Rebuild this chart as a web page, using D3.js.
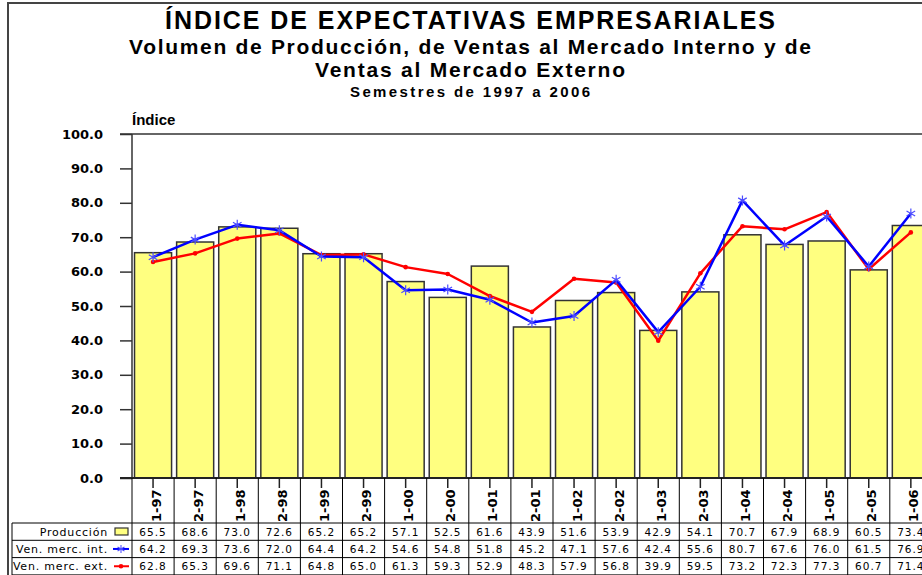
<!DOCTYPE html>
<html>
<head>
<meta charset="utf-8">
<script src="https://cdn.jsdelivr.net/npm/d3@7"></script>
<style>
  body { margin: 0; background: #fff; }
  svg { display: block; }
</style>
</head>
<body>
<svg id="chart" width="922" height="575"></svg>
<script>
var categories = ["1-97", "2-97", "1-98", "2-98", "1-99", "2-99", "1-00", "2-00", "1-01", "2-01",
                  "1-02", "2-02", "1-03", "2-03", "1-04", "2-04", "1-05", "2-05", "1-06"];
var produccion = [65.5, 68.6, 73.0, 72.6, 65.2, 65.2, 57.1, 52.5, 61.6, 43.9,
                  51.6, 53.9, 42.9, 54.1, 70.7, 67.9, 68.9, 60.5, 73.4];
var ventasInt  = [64.2, 69.3, 73.6, 72.0, 64.4, 64.2, 54.6, 54.8, 51.8, 45.2,
                  47.1, 57.6, 42.4, 55.6, 80.7, 67.6, 76.0, 61.5, 76.9];
var ventasExt  = [62.8, 65.3, 69.6, 71.1, 64.8, 65.0, 61.3, 59.3, 52.9, 48.3,
                  57.9, 56.8, 39.9, 59.5, 73.2, 72.3, 77.3, 60.7, 71.4];
var seriesNames = ["Producción", "Ven. merc. int.", "Ven. merc. ext."];
var yTicks = [0, 10, 20, 30, 40, 50, 60, 70, 80, 90, 100];

var svg = d3.select("#chart");
var plotLeft = 132, plotTop = 134, plotBottom = 478, step = 42.1;
var tableTop = 523, rowH = 17.3;

var x = d3.scaleBand()
    .domain(categories)
    .range([plotLeft, plotLeft + step * categories.length]);

var y = d3.scaleLinear()
    .domain([0, 100])
    .range([plotBottom, plotTop]);

var barW = x.bandwidth() * 0.88;
var sans = "'Liberation Sans', Arial, sans-serif";
var dv = "'DejaVu Sans', Verdana, sans-serif";

// outer frame
svg.append("path")
    .attr("d", "M8,575V3H922")
    .attr("fill", "none")
    .attr("stroke", "#444")
    .attr("stroke-width", 2);

// titles
var titles = [
    { t: "ÍNDICE DE EXPECTATIVAS EMPRESARIALES", y: 29, s: 25, w: 610 },
    { t: "Volumen de Producción, de Ventas al Mercado Interno y de", y: 54, s: 21, w: 682 },
    { t: "Ventas al Mercado Externo", y: 77, s: 21, w: 310 },
    { t: "Semestres de 1997 a 2006", y: 97, s: 15, w: 240 }
];
svg.selectAll(".title")
    .data(titles)
    .enter().append("text")
    .attr("class", "title")
    .attr("x", 470)
    .attr("y", function (d) { return d.y; })
    .attr("text-anchor", "middle")
    .attr("font-family", sans)
    .attr("font-weight", "bold")
    .attr("font-size", function (d) { return d.s; })
    .attr("textLength", function (d) { return d.w; })
    .attr("lengthAdjust", "spacing")
    .text(function (d) { return d.t; });

svg.append("text")
    .attr("x", 132)
    .attr("y", 125)
    .attr("font-family", sans)
    .attr("font-weight", "bold")
    .attr("font-size", 15)
    .text("Índice");

// bars
svg.append("g")
    .selectAll("rect")
    .data(produccion)
    .enter().append("rect")
    .attr("x", function (d, i) { return x(categories[i]) + (x.bandwidth() - barW) / 2; })
    .attr("y", function (d) { return y(d); })
    .attr("width", barW)
    .attr("height", function (d) { return y(0) - y(d); })
    .attr("fill", "#ffff80")
    .attr("stroke", "#333")
    .attr("stroke-width", 1.5);

// y axis
var yAxis = svg.append("g")
    .attr("transform", "translate(" + plotLeft + ",0)")
    .call(d3.axisLeft(y).tickValues(yTicks).tickFormat(d3.format(".1f")).tickSize(12).tickPadding(17));
yAxis.select(".domain").remove();
yAxis.selectAll("line").attr("stroke", "#333").attr("stroke-width", 1.5);
yAxis.selectAll("text")
    .attr("font-family", dv)
    .attr("font-weight", "bold")
    .attr("font-size", 13)
    .attr("fill", "#000");

svg.append("line")
    .attr("x1", plotLeft).attr("x2", plotLeft)
    .attr("y1", y(100)).attr("y2", y(0))
    .attr("stroke", "#333").attr("stroke-width", 1.5);
svg.append("line")
    .attr("x1", 120).attr("x2", 922)
    .attr("y1", y(100)).attr("y2", y(100))
    .attr("stroke", "#333").attr("stroke-width", 1.5);
svg.append("line")
    .attr("x1", 120).attr("x2", 922)
    .attr("y1", y(0)).attr("y2", y(0))
    .attr("stroke", "#222").attr("stroke-width", 2);

// lines
var line = d3.line()
    .x(function (d, i) { return x(categories[i]) + x.bandwidth() / 2; })
    .y(function (d) { return y(d); });

svg.append("path")
    .datum(ventasExt)
    .attr("fill", "none")
    .attr("stroke", "#ff0000")
    .attr("stroke-width", 2.5)
    .attr("stroke-linejoin", "round")
    .attr("d", line);
svg.append("g")
    .selectAll("circle")
    .data(ventasExt)
    .enter().append("circle")
    .attr("cx", function (d, i) { return x(categories[i]) + x.bandwidth() / 2; })
    .attr("cy", function (d) { return y(d); })
    .attr("r", 2.3)
    .attr("fill", "#ff0000");

svg.append("path")
    .datum(ventasInt)
    .attr("fill", "none")
    .attr("stroke", "#0000ff")
    .attr("stroke-width", 2.5)
    .attr("stroke-linejoin", "round")
    .attr("d", line);

var asterisk = "M0,-5V5M-4.3,-2.5L4.3,2.5M-4.3,2.5L4.3,-2.5";
svg.append("g")
    .selectAll("path")
    .data(ventasInt)
    .enter().append("path")
    .attr("transform", function (d, i) {
        return "translate(" + (x(categories[i]) + x.bandwidth() / 2) + "," + y(d) + ")";
    })
    .attr("d", asterisk)
    .attr("stroke", "#4d4dff")
    .attr("stroke-width", 1.2)
    .attr("fill", "none");

// category labels with ticks
var catG = svg.append("g");
catG.selectAll(".tick")
    .data(categories)
    .enter().append("line")
    .attr("x1", function (d) { return x(d) + x.bandwidth() / 2; })
    .attr("x2", function (d) { return x(d) + x.bandwidth() / 2; })
    .attr("y1", plotBottom)
    .attr("y2", plotBottom + 10)
    .attr("stroke", "#222")
    .attr("stroke-width", 1.5);
catG.selectAll("text")
    .data(categories)
    .enter().append("text")
    .attr("transform", function (d) {
        return "translate(" + (x(d) + x.bandwidth() / 2 + 3) + "," + (tableTop - 1) + ") rotate(-90)";
    })
    .attr("dy", "0.35em")
    .attr("font-family", dv)
    .attr("font-weight", "bold")
    .attr("font-size", 13)
    .text(function (d) { return d; });

// table grid
var nRows = seriesNames.length;
var grid = svg.append("g").attr("stroke", "#000").attr("stroke-width", 1);
grid.selectAll(".v")
    .data(categories)
    .enter().append("line")
    .attr("x1", function (d) { return x(d); })
    .attr("x2", function (d) { return x(d); })
    .attr("y1", plotBottom)
    .attr("y2", 575);
grid.append("line")
    .attr("x1", 12).attr("x2", 12)
    .attr("y1", tableTop).attr("y2", 575);
grid.selectAll(".h")
    .data(d3.range(nRows + 1))
    .enter().append("line")
    .attr("x1", 12)
    .attr("x2", 922)
    .attr("y1", function (k) { return tableTop + k * rowH; })
    .attr("y2", function (k) { return tableTop + k * rowH; });

// row headers
var series = [produccion, ventasInt, ventasExt];
svg.selectAll(".rowname")
    .data(seriesNames)
    .enter().append("text")
    .attr("x", 108)
    .attr("y", function (d, k) { return tableTop + k * rowH + 12.5; })
    .attr("text-anchor", "end")
    .attr("font-family", dv)
    .attr("font-size", 11)
    .attr("letter-spacing", 0.8)
    .text(function (d) { return d; });

// legend keys
svg.append("rect")
    .attr("x", 115).attr("y", tableTop + 5)
    .attr("width", 13).attr("height", 7)
    .attr("fill", "#ffff80").attr("stroke", "#333").attr("stroke-width", 1.2);
svg.append("line")
    .attr("x1", 113).attr("x2", 129)
    .attr("y1", tableTop + rowH * 1.5).attr("y2", tableTop + rowH * 1.5)
    .attr("stroke", "#0000ff").attr("stroke-width", 2);
svg.append("path")
    .attr("transform", "translate(121," + (tableTop + rowH * 1.5) + ") scale(0.8)")
    .attr("d", asterisk)
    .attr("stroke", "#4d4dff").attr("stroke-width", 1.3);
svg.append("line")
    .attr("x1", 114).attr("x2", 129)
    .attr("y1", tableTop + rowH * 2.5).attr("y2", tableTop + rowH * 2.5)
    .attr("stroke", "#ff0000").attr("stroke-width", 2);
svg.append("circle")
    .attr("cx", 121).attr("cy", tableTop + rowH * 2.5)
    .attr("r", 2.3).attr("fill", "#ff0000");

// table values
series.forEach(function (vals, k) {
    svg.append("g")
        .selectAll("text")
        .data(vals)
        .enter().append("text")
        .attr("x", function (d, i) { return x(categories[i]) + x.bandwidth() / 2; })
        .attr("y", tableTop + k * rowH + 12.5)
        .attr("text-anchor", "middle")
        .attr("font-family", dv)
        .attr("font-size", 10.5)
        .attr("letter-spacing", 1)
        .text(function (d) { return d3.format(".1f")(d); });
});
</script>
</body>
</html>
